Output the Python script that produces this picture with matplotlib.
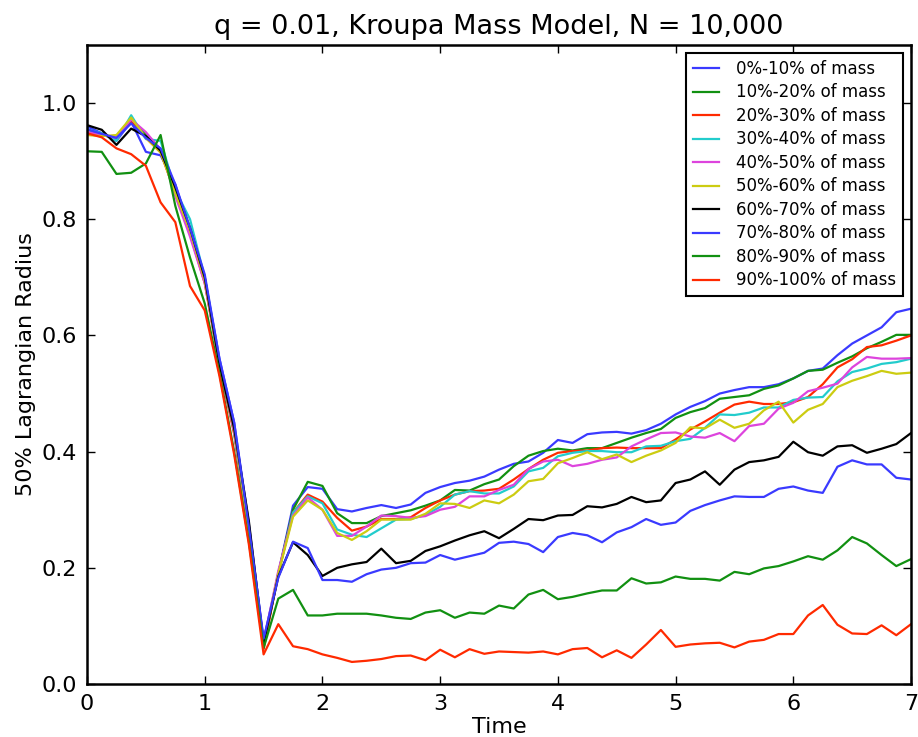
import numpy as np
import matplotlib
matplotlib.use('Agg')
import matplotlib.pyplot as plt

# time axis: snapshots every 0.125
time = np.arange(57) * 0.125

labels = ['0%-10% of mass', '10%-20% of mass', '20%-30% of mass', '30%-40% of mass',
          '40%-50% of mass', '50%-60% of mass', '60%-70% of mass', '70%-80% of mass',
          '80%-90% of mass', '90%-100% of mass']
colors = ['#3a3aff', '#119011', '#ff2a00', '#22cccc', '#dd44dd', '#cccc11', 'black',
          '#3a3aff', '#119011', '#ff2a00']

r0 = [0.960, 0.948, 0.935, 0.968, 0.916, 0.910, 0.860, 0.780, 0.700, 0.560, 0.450, 0.275, 0.075,
      0.190, 0.307, 0.339, 0.336, 0.301, 0.297, 0.303, 0.308, 0.303, 0.309, 0.329, 0.339,
      0.346, 0.350, 0.357, 0.369, 0.379, 0.383, 0.398, 0.420, 0.415, 0.430, 0.433, 0.434,
      0.431, 0.437, 0.448, 0.464, 0.477, 0.487, 0.500, 0.506, 0.511, 0.511, 0.516, 0.526,
      0.539, 0.543, 0.566, 0.586, 0.600, 0.614, 0.640, 0.646]
r1 = [0.955, 0.945, 0.940, 0.972, 0.945, 0.920, 0.845, 0.775, 0.695, 0.550, 0.435, 0.260, 0.065,
      0.190, 0.300, 0.348, 0.341, 0.294, 0.277, 0.277, 0.289, 0.294, 0.299, 0.307, 0.316,
      0.334, 0.333, 0.344, 0.352, 0.375, 0.393, 0.401, 0.405, 0.402, 0.406, 0.406, 0.415,
      0.424, 0.432, 0.439, 0.458, 0.468, 0.475, 0.491, 0.494, 0.497, 0.508, 0.514, 0.526,
      0.539, 0.541, 0.553, 0.564, 0.578, 0.589, 0.601, 0.601]
r2 = [0.950, 0.945, 0.940, 0.970, 0.940, 0.915, 0.845, 0.775, 0.690, 0.550, 0.430, 0.260, 0.060,
      0.190, 0.295, 0.326, 0.314, 0.286, 0.264, 0.271, 0.284, 0.284, 0.287, 0.303, 0.316,
      0.326, 0.332, 0.333, 0.336, 0.352, 0.370, 0.386, 0.398, 0.401, 0.402, 0.406, 0.407,
      0.406, 0.406, 0.406, 0.421, 0.438, 0.452, 0.467, 0.481, 0.486, 0.482, 0.482, 0.485,
      0.494, 0.516, 0.545, 0.559, 0.580, 0.583, 0.591, 0.600]
r3 = [0.955, 0.948, 0.935, 0.979, 0.938, 0.935, 0.850, 0.800, 0.700, 0.555, 0.435, 0.260, 0.070,
      0.190, 0.295, 0.323, 0.311, 0.266, 0.257, 0.253, 0.268, 0.283, 0.284, 0.291, 0.305,
      0.326, 0.332, 0.328, 0.328, 0.340, 0.366, 0.372, 0.392, 0.398, 0.401, 0.401, 0.399,
      0.399, 0.409, 0.410, 0.418, 0.422, 0.441, 0.464, 0.463, 0.467, 0.476, 0.476, 0.489,
      0.493, 0.494, 0.521, 0.537, 0.543, 0.551, 0.554, 0.560]
r4 = [0.950, 0.945, 0.940, 0.972, 0.950, 0.920, 0.840, 0.770, 0.690, 0.550, 0.435, 0.262, 0.072,
      0.195, 0.290, 0.321, 0.300, 0.255, 0.255, 0.271, 0.290, 0.289, 0.286, 0.289, 0.300,
      0.305, 0.323, 0.323, 0.334, 0.343, 0.370, 0.383, 0.386, 0.375, 0.379, 0.386, 0.390,
      0.409, 0.421, 0.432, 0.433, 0.426, 0.424, 0.432, 0.418, 0.444, 0.448, 0.474, 0.484,
      0.504, 0.510, 0.517, 0.545, 0.563, 0.560, 0.560, 0.561]
r5 = [0.945, 0.943, 0.945, 0.975, 0.940, 0.915, 0.845, 0.780, 0.695, 0.550, 0.440, 0.262, 0.068,
      0.190, 0.288, 0.316, 0.300, 0.260, 0.248, 0.263, 0.283, 0.283, 0.283, 0.293, 0.311,
      0.310, 0.303, 0.316, 0.311, 0.326, 0.349, 0.353, 0.380, 0.389, 0.399, 0.387, 0.395,
      0.382, 0.393, 0.402, 0.415, 0.442, 0.440, 0.455, 0.441, 0.448, 0.471, 0.486, 0.450,
      0.472, 0.482, 0.511, 0.522, 0.530, 0.539, 0.534, 0.536]
r6 = [0.962, 0.954, 0.928, 0.956, 0.943, 0.918, 0.855, 0.785, 0.700, 0.550, 0.440, 0.280, 0.070,
      0.185, 0.244, 0.222, 0.186, 0.200, 0.206, 0.210, 0.233, 0.208, 0.212, 0.229, 0.237,
      0.247, 0.256, 0.263, 0.251, 0.267, 0.284, 0.282, 0.290, 0.291, 0.306, 0.304, 0.310,
      0.322, 0.313, 0.316, 0.346, 0.352, 0.366, 0.343, 0.369, 0.382, 0.385, 0.391, 0.417,
      0.399, 0.393, 0.409, 0.411, 0.398, 0.405, 0.413, 0.432]
r7 = [0.955, 0.947, 0.940, 0.965, 0.940, 0.922, 0.860, 0.785, 0.705, 0.560, 0.450, 0.270, 0.078,
      0.183, 0.245, 0.234, 0.179, 0.179, 0.176, 0.189, 0.197, 0.200, 0.208, 0.209, 0.222,
      0.214, 0.220, 0.226, 0.243, 0.245, 0.241, 0.227, 0.253, 0.260, 0.256, 0.244, 0.261,
      0.270, 0.284, 0.274, 0.278, 0.298, 0.308, 0.316, 0.323, 0.322, 0.322, 0.336, 0.340,
      0.333, 0.329, 0.374, 0.385, 0.378, 0.378, 0.355, 0.352]
r8 = [0.917, 0.916, 0.878, 0.880, 0.896, 0.945, 0.823, 0.734, 0.655, 0.535, 0.400, 0.245, 0.062,
      0.147, 0.162, 0.118, 0.118, 0.121, 0.121, 0.121, 0.118, 0.114, 0.112, 0.123, 0.127,
      0.114, 0.123, 0.121, 0.135, 0.130, 0.154, 0.162, 0.146, 0.150, 0.156, 0.161, 0.161,
      0.182, 0.173, 0.175, 0.185, 0.181, 0.181, 0.178, 0.193, 0.189, 0.199, 0.203, 0.211,
      0.220, 0.214, 0.230, 0.253, 0.242, 0.222, 0.203, 0.215]
r9 = [0.948, 0.941, 0.922, 0.912, 0.892, 0.829, 0.795, 0.685, 0.643, 0.530, 0.395, 0.240, 0.051,
      0.103, 0.065, 0.060, 0.051, 0.045, 0.038, 0.040, 0.043, 0.048, 0.049, 0.041, 0.059,
      0.046, 0.060, 0.052, 0.056, 0.055, 0.054, 0.056, 0.051, 0.060, 0.062, 0.046, 0.058,
      0.045, 0.068, 0.093, 0.064, 0.068, 0.070, 0.071, 0.063, 0.073, 0.076, 0.086, 0.086,
      0.118, 0.136, 0.102, 0.087, 0.086, 0.101, 0.084, 0.103]

radii = [r0, r1, r2, r3, r4, r5, r6, r7, r8, r9]

fig = plt.figure(figsize=(9.18, 7.37), dpi=100)
ax = fig.add_axes([0.0948, 0.0719, 0.8976, 0.8671])

for r, c, lab in zip(radii, colors, labels):
    ax.plot(time, r, color=c, lw=1.6, label=lab)

ax.set_xlim(0, 7)
ax.set_ylim(0, 1.1)
ax.set_yticks([0.0, 0.2, 0.4, 0.6, 0.8, 1.0])
ax.tick_params(direction='in', top=True, right=True, labelsize=16, length=6, width=1, pad=7)
for s in ax.spines.values():
    s.set_linewidth(1.8)

ax.set_xlabel('Time', fontsize=16, labelpad=2)
ax.set_ylabel('50% Lagrangian Radius', fontsize=16)
ax.set_title('q = 0.01, Kroupa Mass Model, N = 10,000', fontsize=19.5, pad=8)

leg = ax.legend(loc='upper right', fontsize=12, fancybox=False, framealpha=1,
                edgecolor='black', handlelength=1.6, handletextpad=1.0,
                borderaxespad=0.5, borderpad=0.4, labelspacing=0.33)
leg.get_frame().set_linewidth(1.5)

plt.savefig('out.png', dpi=100)
